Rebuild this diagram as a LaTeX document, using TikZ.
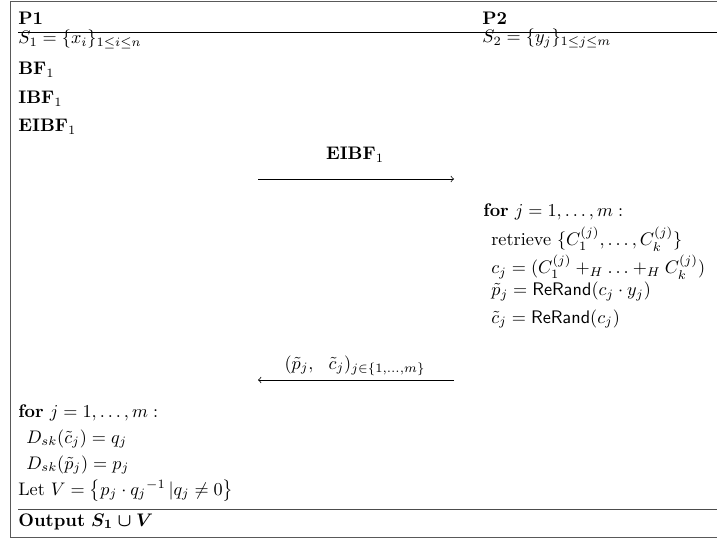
\documentclass[tikz,border=0pt]{standalone}
\usepackage{amsmath,amssymb}
\begin{document}
\begin{tikzpicture}[x=0.55pt,y=-0.55pt,
  txt/.style={inner sep=0pt, anchor=base west},
  ctr/.style={inner sep=0pt, anchor=base},
  frame/.style={draw=black!65, line width=0.5pt},
  hrule/.style={draw=black, line width=0.5pt},
  lrule/.style={draw=black!70, line width=0.5pt},
  msg/.style={->, line width=0.4pt}]
\useasboundingbox (0,0) rectangle (717,540);
\draw[frame] (780,1.5) -- (10.5,1.5) -- (10.5,537) -- (780,537);
% headers
\node[txt] (p1) at (18,25) {\textbf{P1}};
\node[txt] (p2) at (482,25) {\textbf{P2}};
\draw[hrule] (18,32.5) -- (780,32.5);
% P1 column
\node[txt] (s1) at (18,44) {$S_1=\{x_i\}_{1\le i\le n}$};
\node[txt] (bf) at (18,75) {$\mathbf{BF}_1$};
\node[txt] (ibf) at (18,104) {$\mathbf{IBF}_1$};
\node[txt] (eibf) at (18,132) {$\mathbf{EIBF}_1$};
% P2 column
\node[txt] (s2) at (482,43) {$S_2=\{y_j\}_{1\le j\le m}$};
% message 1
\node[ctr] (m1) at (355,160) {$\mathbf{EIBF}_1$};
\coordinate (m1s) at (258,179);
\coordinate (m1e) at (454,179);
\draw[msg] (m1s) -- (m1e);
% P2 computation
\node[txt] (for2) at (483,217) {\textbf{for} $j=1,\ldots,m:$};
\node[txt] (ret) at (491,246) {retrieve $\{C_1^{(j)},\ldots,C_k^{(j)}\}$};
\node[txt] (cj) at (491,274) {$c_j=(C_1^{(j)}+_H\ldots+_H C_k^{(j)})$};
\node[txt] (pt) at (491,296) {$\tilde{p}_j=\mathsf{ReRand}(c_j\cdot y_j)$};
\node[txt] (ct) at (491,323) {$\tilde{c}_j=\mathsf{ReRand}(c_j)$};
% message 2
\node[ctr] (m2) at (355,369) {$(\tilde{p}_j,\ \ \tilde{c}_j)_{j\in\{1,\ldots,m\}}$};
\coordinate (m2s) at (454,380);
\coordinate (m2e) at (258,380);
\draw[msg] (m2s) -- (m2e);
% P1 computation
\node[txt] (for1) at (18,418) {\textbf{for} $j=1,\ldots,m:$};
\node[txt] (d1) at (26,443) {$D_{sk}(\tilde{c}_j)=q_j$};
\node[txt] (d2) at (26,469) {$D_{sk}(\tilde{p}_j)=p_j$};
\node[txt] (let) at (18,495) {Let $V=\bigl\{p_j\cdot {q_j}^{-1}\,|q_j\neq 0\bigr\}$};
\draw[lrule] (18,509) -- (780,509);
\node[txt] (out) at (18,526) {\textbf{Output} $\boldsymbol{S_1\cup V}$};
\end{tikzpicture}
\end{document}
